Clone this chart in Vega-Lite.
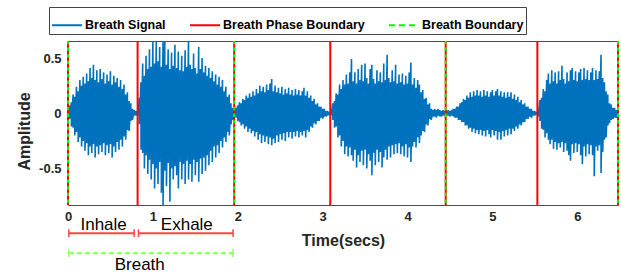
{
  "$schema": "https://vega.github.io/schema/vega-lite/v6.json",
  "width": 550,
  "height": 164,
  "autosize": {"type": "none"},
  "padding": {"left": 68, "top": 41, "right": 3, "bottom": 69},
  "background": "white",
  "config": {
    "view": {"stroke": "#4d4d4d", "strokeWidth": 1},
    "font": "Liberation Sans",
    "axis": {
      "labelFont": "Liberation Sans", "labelFontWeight": "bold", "labelFontSize": 13, "labelColor": "#262626",
      "titleFont": "Liberation Sans", "titleFontWeight": "bold", "titleFontSize": 16, "titleColor": "#262626",
      "grid": false, "ticks": false, "domain": false
    }
  },
  "datasets": {
    "signal": [
      {"t":0.00,"hi":0.02,"lo":-0.02},{"t":0.02,"hi":0.07,"lo":-0.05},{"t":0.04,"hi":0.1,"lo":-0.12},{"t":0.06,"hi":0.17,"lo":-0.13},
      {"t":0.08,"hi":0.15,"lo":-0.2},{"t":0.10,"hi":0.24,"lo":-0.17},{"t":0.12,"hi":0.2,"lo":-0.26},{"t":0.14,"hi":0.3,"lo":-0.22},
      {"t":0.16,"hi":0.25,"lo":-0.3},{"t":0.18,"hi":0.33,"lo":-0.25},{"t":0.20,"hi":0.27,"lo":-0.34},{"t":0.22,"hi":0.36,"lo":-0.27},
      {"t":0.24,"hi":0.29,"lo":-0.38},{"t":0.26,"hi":0.41,"lo":-0.3},{"t":0.28,"hi":0.32,"lo":-0.36},{"t":0.30,"hi":0.44,"lo":-0.28},
      {"t":0.32,"hi":0.3,"lo":-0.4},{"t":0.34,"hi":0.39,"lo":-0.3},{"t":0.36,"hi":0.28,"lo":-0.37},{"t":0.38,"hi":0.4,"lo":-0.29},
      {"t":0.40,"hi":0.31,"lo":-0.35},{"t":0.42,"hi":0.37,"lo":-0.27},{"t":0.44,"hi":0.27,"lo":-0.38},{"t":0.46,"hi":0.35,"lo":-0.29},
      {"t":0.48,"hi":0.29,"lo":-0.36},{"t":0.50,"hi":0.38,"lo":-0.28},{"t":0.52,"hi":0.26,"lo":-0.4},{"t":0.54,"hi":0.34,"lo":-0.3},
      {"t":0.56,"hi":0.28,"lo":-0.35},{"t":0.58,"hi":0.32,"lo":-0.26},{"t":0.60,"hi":0.24,"lo":-0.33},{"t":0.62,"hi":0.3,"lo":-0.24},
      {"t":0.64,"hi":0.22,"lo":-0.3},{"t":0.66,"hi":0.26,"lo":-0.21},{"t":0.68,"hi":0.17,"lo":-0.24},{"t":0.70,"hi":0.19,"lo":-0.15},
      {"t":0.72,"hi":0.11,"lo":-0.16},{"t":0.74,"hi":0.09,"lo":-0.07},{"t":0.76,"hi":0.04,"lo":-0.06},{"t":0.78,"hi":0.03,"lo":-0.02},
      {"t":0.80,"hi":0.02,"lo":-0.02},
      {"t":0.82,"hi":0.02,"lo":-0.02},{"t":0.84,"hi":0.14,"lo":-0.1},{"t":0.86,"hi":0.28,"lo":-0.33},{"t":0.88,"hi":0.45,"lo":-0.36},
      {"t":0.90,"hi":0.34,"lo":-0.5},{"t":0.92,"hi":0.52,"lo":-0.38},{"t":0.94,"hi":0.4,"lo":-0.55},{"t":0.96,"hi":0.58,"lo":-0.42},
      {"t":0.98,"hi":0.42,"lo":-0.6},{"t":1.00,"hi":0.654,"lo":-0.46},{"t":1.02,"hi":0.45,"lo":-0.68},{"t":1.04,"hi":0.654,"lo":-0.5},
      {"t":1.06,"hi":0.47,"lo":-0.64},{"t":1.08,"hi":0.6,"lo":-0.44},{"t":1.10,"hi":0.42,"lo":-0.72},{"t":1.12,"hi":0.654,"lo":-0.83},
      {"t":1.14,"hi":0.654,"lo":-0.52},{"t":1.16,"hi":0.44,"lo":-0.66},{"t":1.18,"hi":0.58,"lo":-0.45},{"t":1.20,"hi":0.4,"lo":-0.8},
      {"t":1.22,"hi":0.55,"lo":-0.5},{"t":1.24,"hi":0.43,"lo":-0.6},{"t":1.26,"hi":0.62,"lo":-0.48},{"t":1.28,"hi":0.41,"lo":-0.56},
      {"t":1.30,"hi":0.56,"lo":-0.68},{"t":1.32,"hi":0.39,"lo":-0.44},{"t":1.34,"hi":0.52,"lo":-0.6},{"t":1.36,"hi":0.38,"lo":-0.46},
      {"t":1.38,"hi":0.57,"lo":-0.64},{"t":1.40,"hi":0.42,"lo":-0.43},{"t":1.42,"hi":0.654,"lo":-0.6},{"t":1.44,"hi":0.44,"lo":-0.46},
      {"t":1.46,"hi":0.4,"lo":-0.62},{"t":1.48,"hi":0.54,"lo":-0.42},{"t":1.50,"hi":0.41,"lo":-0.56},{"t":1.52,"hi":0.36,"lo":-0.44},
      {"t":1.54,"hi":0.6,"lo":-0.62},{"t":1.56,"hi":0.4,"lo":-0.41},{"t":1.58,"hi":0.5,"lo":-0.55},{"t":1.60,"hi":0.37,"lo":-0.4},
      {"t":1.62,"hi":0.43,"lo":-0.52},{"t":1.64,"hi":0.34,"lo":-0.38},{"t":1.66,"hi":0.41,"lo":-0.47},{"t":1.68,"hi":0.32,"lo":-0.34},
      {"t":1.70,"hi":0.38,"lo":-0.44},{"t":1.72,"hi":0.29,"lo":-0.3},{"t":1.74,"hi":0.35,"lo":-0.4},{"t":1.76,"hi":0.26,"lo":-0.29},
      {"t":1.78,"hi":0.33,"lo":-0.36},{"t":1.80,"hi":0.24,"lo":-0.25},{"t":1.82,"hi":0.3,"lo":-0.31},{"t":1.84,"hi":0.2,"lo":-0.22},
      {"t":1.86,"hi":0.24,"lo":-0.26},{"t":1.88,"hi":0.15,"lo":-0.17},{"t":1.90,"hi":0.17,"lo":-0.2},{"t":1.92,"hi":0.09,"lo":-0.1},
      {"t":1.94,"hi":0.05,"lo":-0.06},
      {"t":1.96,"hi":0.02,"lo":-0.02},{"t":1.98,"hi":0.05,"lo":-0.04},{"t":2.00,"hi":0.07,"lo":-0.07},{"t":2.02,"hi":0.1,"lo":-0.08},
      {"t":2.04,"hi":0.09,"lo":-0.11},{"t":2.06,"hi":0.13,"lo":-0.1},{"t":2.08,"hi":0.12,"lo":-0.14},{"t":2.10,"hi":0.16,"lo":-0.12},
      {"t":2.12,"hi":0.14,"lo":-0.17},{"t":2.14,"hi":0.18,"lo":-0.14},{"t":2.16,"hi":0.15,"lo":-0.18},{"t":2.18,"hi":0.2,"lo":-0.16},
      {"t":2.20,"hi":0.16,"lo":-0.21},{"t":2.22,"hi":0.22,"lo":-0.17},{"t":2.24,"hi":0.18,"lo":-0.24},{"t":2.26,"hi":0.25,"lo":-0.19},
      {"t":2.28,"hi":0.2,"lo":-0.27},{"t":2.30,"hi":0.24,"lo":-0.2},{"t":2.32,"hi":0.19,"lo":-0.26},{"t":2.34,"hi":0.26,"lo":-0.21},
      {"t":2.36,"hi":0.21,"lo":-0.28},{"t":2.38,"hi":0.27,"lo":-0.22},{"t":2.40,"hi":0.31,"lo":-0.29},{"t":2.42,"hi":0.2,"lo":-0.23},
      {"t":2.44,"hi":0.25,"lo":-0.27},{"t":2.46,"hi":0.19,"lo":-0.2},{"t":2.48,"hi":0.23,"lo":-0.26},{"t":2.50,"hi":0.18,"lo":-0.19},
      {"t":2.52,"hi":0.24,"lo":-0.24},{"t":2.54,"hi":0.17,"lo":-0.18},{"t":2.56,"hi":0.22,"lo":-0.25},{"t":2.58,"hi":0.18,"lo":-0.17},
      {"t":2.60,"hi":0.23,"lo":-0.22},{"t":2.62,"hi":0.17,"lo":-0.17},{"t":2.64,"hi":0.21,"lo":-0.23},{"t":2.66,"hi":0.16,"lo":-0.17},
      {"t":2.68,"hi":0.22,"lo":-0.21},{"t":2.70,"hi":0.17,"lo":-0.16},{"t":2.72,"hi":0.21,"lo":-0.22},{"t":2.74,"hi":0.16,"lo":-0.17},
      {"t":2.76,"hi":0.2,"lo":-0.2},{"t":2.78,"hi":0.23,"lo":-0.16},{"t":2.80,"hi":0.16,"lo":-0.22},{"t":2.82,"hi":0.2,"lo":-0.15},
      {"t":2.84,"hi":0.14,"lo":-0.17},{"t":2.86,"hi":0.16,"lo":-0.12},{"t":2.88,"hi":0.11,"lo":-0.13},{"t":2.90,"hi":0.13,"lo":-0.09},
      {"t":2.92,"hi":0.08,"lo":-0.1},{"t":2.94,"hi":0.09,"lo":-0.07},{"t":2.96,"hi":0.06,"lo":-0.07},{"t":2.98,"hi":0.06,"lo":-0.04},
      {"t":3.00,"hi":0.04,"lo":-0.05},{"t":3.02,"hi":0.04,"lo":-0.03},{"t":3.04,"hi":0.02,"lo":-0.03},{"t":3.06,"hi":0.02,"lo":-0.02},
      {"t":3.08,"hi":0.01,"lo":-0.01},
      {"t":3.10,"hi":0.02,"lo":-0.02},{"t":3.12,"hi":0.09,"lo":-0.06},{"t":3.14,"hi":0.11,"lo":-0.13},{"t":3.16,"hi":0.18,"lo":-0.12},
      {"t":3.18,"hi":0.17,"lo":-0.22},{"t":3.20,"hi":0.26,"lo":-0.2},{"t":3.22,"hi":0.22,"lo":-0.3},{"t":3.24,"hi":0.3,"lo":-0.25},
      {"t":3.26,"hi":0.26,"lo":-0.37},{"t":3.28,"hi":0.35,"lo":-0.3},{"t":3.30,"hi":0.27,"lo":-0.39},{"t":3.32,"hi":0.37,"lo":-0.31},
      {"t":3.34,"hi":0.49,"lo":-0.38},{"t":3.36,"hi":0.29,"lo":-0.43},{"t":3.38,"hi":0.37,"lo":-0.33},{"t":3.40,"hi":0.27,"lo":-0.49},
      {"t":3.42,"hi":0.4,"lo":-0.38},{"t":3.44,"hi":0.3,"lo":-0.44},{"t":3.46,"hi":0.44,"lo":-0.34},{"t":3.48,"hi":0.29,"lo":-0.47},
      {"t":3.50,"hi":0.45,"lo":-0.33},{"t":3.52,"hi":0.32,"lo":-0.5},{"t":3.54,"hi":0.27,"lo":-0.37},{"t":3.56,"hi":0.4,"lo":-0.43},
      {"t":3.58,"hi":0.44,"lo":-0.56},{"t":3.60,"hi":0.31,"lo":-0.36},{"t":3.62,"hi":0.27,"lo":-0.47},{"t":3.64,"hi":0.39,"lo":-0.33},
      {"t":3.66,"hi":0.29,"lo":-0.44},{"t":3.68,"hi":0.37,"lo":-0.35},{"t":3.70,"hi":0.28,"lo":-0.49},{"t":3.72,"hi":0.45,"lo":-0.4},
      {"t":3.74,"hi":0.3,"lo":-0.33},{"t":3.76,"hi":0.53,"lo":-0.42},{"t":3.78,"hi":0.32,"lo":-0.3},{"t":3.80,"hi":0.28,"lo":-0.4},
      {"t":3.82,"hi":0.39,"lo":-0.29},{"t":3.84,"hi":0.29,"lo":-0.37},{"t":3.86,"hi":0.44,"lo":-0.28},{"t":3.88,"hi":0.27,"lo":-0.36},
      {"t":3.90,"hi":0.35,"lo":-0.27},{"t":3.92,"hi":0.28,"lo":-0.37},{"t":3.94,"hi":0.36,"lo":-0.3},{"t":3.96,"hi":0.26,"lo":-0.39},
      {"t":3.98,"hi":0.34,"lo":-0.28},{"t":4.00,"hi":0.27,"lo":-0.4},{"t":4.02,"hi":0.37,"lo":-0.31},{"t":4.04,"hi":0.46,"lo":-0.44},
      {"t":4.06,"hi":0.26,"lo":-0.3},{"t":4.08,"hi":0.32,"lo":-0.26},{"t":4.10,"hi":0.23,"lo":-0.31},{"t":4.12,"hi":0.3,"lo":-0.22},
      {"t":4.14,"hi":0.26,"lo":-0.27},{"t":4.16,"hi":0.19,"lo":-0.2},{"t":4.18,"hi":0.21,"lo":-0.16},{"t":4.20,"hi":0.13,"lo":-0.17},
      {"t":4.22,"hi":0.14,"lo":-0.1},{"t":4.24,"hi":0.08,"lo":-0.11},{"t":4.26,"hi":0.09,"lo":-0.05},{"t":4.28,"hi":0.04,"lo":-0.06},
      {"t":4.30,"hi":0.03,"lo":-0.03},{"t":4.32,"hi":0.04,"lo":-0.03},{"t":4.34,"hi":0.03,"lo":-0.04},{"t":4.36,"hi":0.04,"lo":-0.02},
      {"t":4.38,"hi":0.03,"lo":-0.03},{"t":4.40,"hi":0.02,"lo":-0.03},{"t":4.42,"hi":0.03,"lo":-0.02},{"t":4.44,"hi":0.02,"lo":-0.02},
      {"t":4.46,"hi":0.02,"lo":-0.02},{"t":4.48,"hi":0.03,"lo":-0.02},{"t":4.50,"hi":0.02,"lo":-0.03},{"t":4.52,"hi":0.03,"lo":-0.02},
      {"t":4.54,"hi":0.04,"lo":-0.03},{"t":4.56,"hi":0.04,"lo":-0.04},{"t":4.58,"hi":0.06,"lo":-0.04},{"t":4.60,"hi":0.06,"lo":-0.06},
      {"t":4.62,"hi":0.09,"lo":-0.06},{"t":4.64,"hi":0.1,"lo":-0.08},{"t":4.66,"hi":0.13,"lo":-0.08},{"t":4.68,"hi":0.12,"lo":-0.11},
      {"t":4.70,"hi":0.16,"lo":-0.11},{"t":4.72,"hi":0.14,"lo":-0.14},{"t":4.74,"hi":0.19,"lo":-0.13},{"t":4.76,"hi":0.15,"lo":-0.17},
      {"t":4.78,"hi":0.2,"lo":-0.14},{"t":4.80,"hi":0.16,"lo":-0.18},{"t":4.82,"hi":0.21,"lo":-0.15},{"t":4.84,"hi":0.16,"lo":-0.19},
      {"t":4.86,"hi":0.2,"lo":-0.15},{"t":4.88,"hi":0.15,"lo":-0.2},{"t":4.90,"hi":0.21,"lo":-0.16},{"t":4.92,"hi":0.16,"lo":-0.21},
      {"t":4.94,"hi":0.2,"lo":-0.15},{"t":4.96,"hi":0.15,"lo":-0.19},{"t":4.98,"hi":0.19,"lo":-0.22},{"t":5.00,"hi":0.21,"lo":-0.15},
      {"t":5.02,"hi":0.16,"lo":-0.2},{"t":5.04,"hi":0.2,"lo":-0.16},{"t":5.06,"hi":0.22,"lo":-0.24},{"t":5.08,"hi":0.16,"lo":-0.17},
      {"t":5.10,"hi":0.2,"lo":-0.24},{"t":5.12,"hi":0.15,"lo":-0.16},{"t":5.14,"hi":0.19,"lo":-0.21},{"t":5.16,"hi":0.14,"lo":-0.15},
      {"t":5.18,"hi":0.19,"lo":-0.2},{"t":5.20,"hi":0.15,"lo":-0.14},{"t":5.22,"hi":0.19,"lo":-0.19},{"t":5.24,"hi":0.13,"lo":-0.14},
      {"t":5.26,"hi":0.17,"lo":-0.16},{"t":5.28,"hi":0.12,"lo":-0.12},{"t":5.30,"hi":0.15,"lo":-0.14},{"t":5.32,"hi":0.1,"lo":-0.1},
      {"t":5.34,"hi":0.12,"lo":-0.11},{"t":5.36,"hi":0.08,"lo":-0.08},{"t":5.38,"hi":0.09,"lo":-0.08},{"t":5.40,"hi":0.06,"lo":-0.05},
      {"t":5.42,"hi":0.06,"lo":-0.05},{"t":5.44,"hi":0.04,"lo":-0.03},{"t":5.46,"hi":0.04,"lo":-0.04},{"t":5.48,"hi":0.02,"lo":-0.02},
      {"t":5.50,"hi":0.02,"lo":-0.02},{"t":5.52,"hi":0.01,"lo":-0.01},
      {"t":5.54,"hi":0.03,"lo":-0.03},{"t":5.56,"hi":0.12,"lo":-0.07},{"t":5.58,"hi":0.14,"lo":-0.14},{"t":5.60,"hi":0.22,"lo":-0.15},
      {"t":5.62,"hi":0.2,"lo":-0.22},{"t":5.64,"hi":0.3,"lo":-0.18},{"t":5.66,"hi":0.36,"lo":-0.24},{"t":5.68,"hi":0.27,"lo":-0.28},
      {"t":5.70,"hi":0.39,"lo":-0.24},{"t":5.72,"hi":0.29,"lo":-0.32},{"t":5.74,"hi":0.37,"lo":-0.26},{"t":5.76,"hi":0.27,"lo":-0.33},
      {"t":5.78,"hi":0.38,"lo":-0.27},{"t":5.80,"hi":0.3,"lo":-0.31},{"t":5.82,"hi":0.43,"lo":-0.26},{"t":5.84,"hi":0.31,"lo":-0.35},
      {"t":5.86,"hi":0.27,"lo":-0.27},{"t":5.88,"hi":0.37,"lo":-0.34},{"t":5.90,"hi":0.29,"lo":-0.38},{"t":5.92,"hi":0.39,"lo":-0.43},
      {"t":5.94,"hi":0.41,"lo":-0.28},{"t":5.96,"hi":0.3,"lo":-0.36},{"t":5.98,"hi":0.38,"lo":-0.27},{"t":6.00,"hi":0.29,"lo":-0.35},
      {"t":6.02,"hi":0.37,"lo":-0.28},{"t":6.04,"hi":0.4,"lo":-0.38},{"t":6.06,"hi":0.3,"lo":-0.46},{"t":6.08,"hi":0.41,"lo":-0.3},
      {"t":6.10,"hi":0.31,"lo":-0.39},{"t":6.12,"hi":0.39,"lo":-0.28},{"t":6.14,"hi":0.3,"lo":-0.37},{"t":6.16,"hi":0.37,"lo":-0.29},
      {"t":6.18,"hi":0.41,"lo":-0.38},{"t":6.20,"hi":0.3,"lo":-0.57},{"t":6.22,"hi":0.39,"lo":-0.3},{"t":6.24,"hi":0.31,"lo":-0.34},
      {"t":6.26,"hi":0.38,"lo":-0.29},{"t":6.28,"hi":0.53,"lo":-0.54},{"t":6.30,"hi":0.32,"lo":-0.35},{"t":6.32,"hi":0.28,"lo":-0.24},
      {"t":6.34,"hi":0.2,"lo":-0.22},{"t":6.36,"hi":0.17,"lo":-0.11},{"t":6.38,"hi":0.09,"lo":-0.09},{"t":6.40,"hi":0.08,"lo":-0.06},
      {"t":6.42,"hi":0.05,"lo":-0.05},{"t":6.44,"hi":0.05,"lo":-0.04},{"t":6.46,"hi":0.03,"lo":-0.04},{"t":6.48,"hi":0.02,"lo":-0.02}
    ],
    "bounds": [
      {"t": 0, "type": "Breath Boundary"},
      {"t": 0.82, "type": "Breath Phase Boundary"},
      {"t": 1.958, "type": "Breath Boundary"},
      {"t": 3.09, "type": "Breath Phase Boundary"},
      {"t": 4.45, "type": "Breath Boundary"},
      {"t": 5.53, "type": "Breath Phase Boundary"},
      {"t": 6.48, "type": "Breath Boundary"}
    ],
    "phases": [
      {"phase": "Inhale", "start": 0.01, "end": 0.78, "center": 0.42},
      {"phase": "Exhale", "start": 0.83, "end": 1.945, "center": 1.4}
    ],
    "breaths": [
      {"label": "Breath", "start": 0.01, "end": 1.945, "center": 0.845}
    ]
  },
  "layer": [
    {
      "data": {"name": "signal"},
      "transform": [{"fold": ["hi", "lo"], "as": ["edge", "amp"]}],
      "mark": {"type": "line", "strokeWidth": 1.6, "clip": true},
      "encoding": {
        "x": {
          "field": "t", "type": "quantitative",
          "scale": {"domain": [0, 6.48], "nice": false, "zero": false},
          "axis": {"values": [0, 1, 2, 3, 4, 5, 6], "format": "d", "title": "Time(secs)", "labelPadding": 5, "titlePadding": 9, "labelFlush": false}
        },
        "y": {
          "field": "amp", "type": "quantitative",
          "scale": {"domain": [-0.83, 0.654], "nice": false, "zero": false},
          "axis": {"values": [-0.5, 0, 0.5], "title": "Amplitude", "labelPadding": 7, "titlePadding": 6, "titleY": 90,
                   "labelExpr": "datum.value < 0 ? '-' + format(-datum.value, '.1f') : (datum.value == 0 ? '0' : format(datum.value, '.1f'))"}
        },
        "color": {
          "datum": "Breath Signal", "type": "nominal",
          "scale": {"domain": ["Breath Signal", "Breath Phase Boundary", "Breath Boundary"], "range": ["#0072BD", "#FF0000", "#00FF00"]},
          "legend": {
            "title": null, "orient": "none", "legendX": -19, "legendY": -34, "direction": "horizontal", "columns": 3,
            "symbolType": "stroke", "symbolSize": 900, "symbolStrokeWidth": 2,
            "labelFont": "Liberation Sans", "labelFontWeight": "bold", "labelFontSize": 12.5, "labelColor": "black",
            "labelOffset": 2, "columnPadding": 20, "padding": 2, "strokeColor": "#444", "fillColor": "white",
            "encode": {"symbols": {"update": {"strokeDash": {"signal": "datum.value === 'Breath Boundary' ? [6,4] : [1,0]"}}}}
          }
        },
        "order": {"value": null}
      }
    },
    {
      "data": {"name": "bounds"},
      "mark": {"type": "rule", "strokeWidth": 2, "color": "#FF0000"},
      "encoding": {"x": {"field": "t", "type": "quantitative"}}
    },
    {
      "data": {"name": "bounds"},
      "transform": [{"filter": {"field": "type", "equal": "Breath Boundary"}}],
      "mark": {"type": "rule", "strokeWidth": 2, "strokeDash": [3.3, 3.3]},
      "encoding": {
        "x": {"field": "t", "type": "quantitative"},
        "color": {"field": "type", "type": "nominal", "title": null}
      }
    },
    {
      "data": {"name": "phases"},
      "mark": {"type": "rule", "strokeWidth": 2, "color": "#FF4444"},
      "encoding": {"x": {"field": "start", "type": "quantitative"}, "x2": {"field": "end"}, "y": {"datum": -1.085, "type": "quantitative"}}
    },
    {
      "data": {"name": "phases"},
      "mark": {"type": "rule", "strokeWidth": 1.5, "color": "#FF4444"},
      "encoding": {"x": {"field": "start", "type": "quantitative"}, "y": {"datum": -1.05, "type": "quantitative"}, "y2": {"datum": -1.12}}
    },
    {
      "data": {"name": "phases"},
      "mark": {"type": "rule", "strokeWidth": 1.5, "color": "#FF4444"},
      "encoding": {"x": {"field": "end", "type": "quantitative"}, "y": {"datum": -1.05, "type": "quantitative"}, "y2": {"datum": -1.12}}
    },
    {
      "data": {"name": "phases"},
      "mark": {"type": "text", "font": "Liberation Sans", "fontSize": 17, "color": "black", "baseline": "alphabetic", "align": "center"},
      "encoding": {"x": {"field": "center", "type": "quantitative"}, "y": {"datum": -1.055, "type": "quantitative"}, "text": {"field": "phase"}}
    },
    {
      "data": {"name": "breaths"},
      "mark": {"type": "rule", "strokeWidth": 2, "color": "#88FF55", "strokeDash": [5, 3]},
      "encoding": {"x": {"field": "start", "type": "quantitative"}, "x2": {"field": "end"}, "y": {"datum": -1.266, "type": "quantitative"}}
    },
    {
      "data": {"name": "breaths"},
      "mark": {"type": "rule", "strokeWidth": 1.5, "color": "#88FF55"},
      "encoding": {"x": {"field": "start", "type": "quantitative"}, "y": {"datum": -1.23, "type": "quantitative"}, "y2": {"datum": -1.30}}
    },
    {
      "data": {"name": "breaths"},
      "mark": {"type": "rule", "strokeWidth": 1.5, "color": "#88FF55"},
      "encoding": {"x": {"field": "end", "type": "quantitative"}, "y": {"datum": -1.23, "type": "quantitative"}, "y2": {"datum": -1.30}}
    },
    {
      "data": {"name": "breaths"},
      "mark": {"type": "text", "font": "Liberation Sans", "fontSize": 17, "color": "black", "baseline": "alphabetic", "align": "center"},
      "encoding": {"x": {"field": "center", "type": "quantitative"}, "y": {"datum": -1.42, "type": "quantitative"}, "text": {"field": "label"}}
    }
  ]
}
